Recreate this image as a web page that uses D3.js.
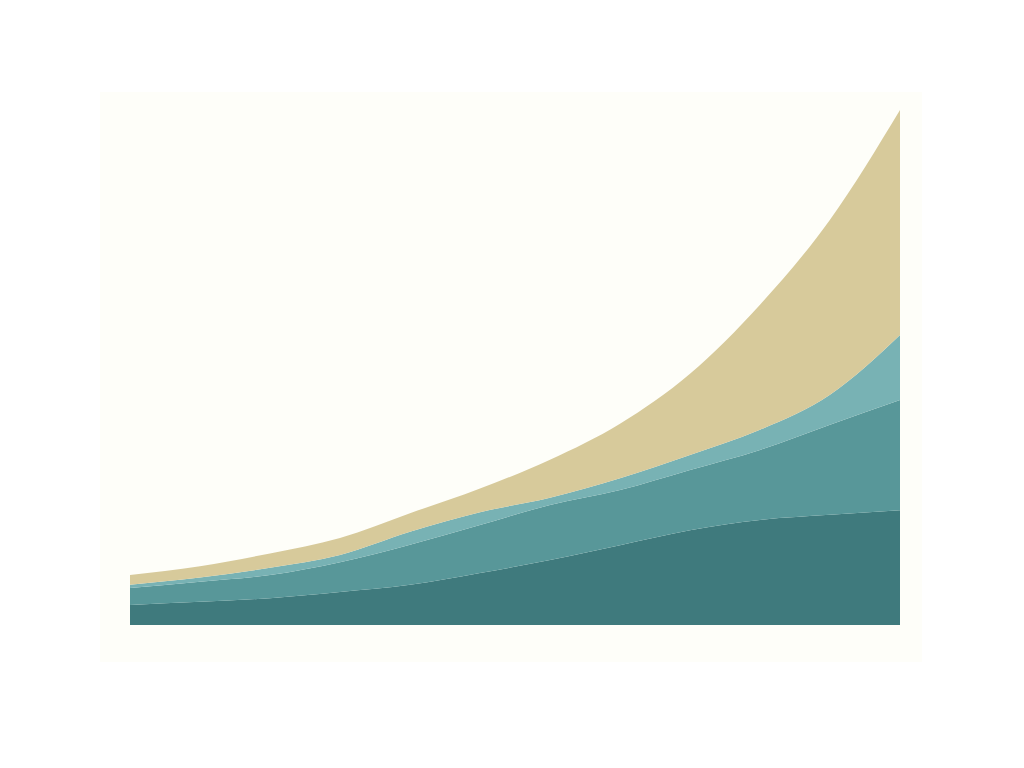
<!DOCTYPE html>
<html>
<head>
<meta charset="utf-8">
<script src="https://cdn.jsdelivr.net/npm/d3@7"></script>
<style>
  body { margin: 0; background: #ffffff; }
  svg { display: block; }
</style>
</head>
<body>
<svg width="1024" height="768"></svg>
<script>
// periods along the x axis
var periods = ["P1", "P2", "P3", "P4", "P5", "P6", "P7", "P8", "P9", "P10", "P11", "P12"];

// stacked series, bottom to top
var seriesKeys = ["dark", "mid", "light", "sand"];
var darkValues  = [3.9, 4.5, 5.2, 6.4, 7.8, 10.1, 12.6, 15.5, 18.4, 20.4, 21.4, 22.3];
var midValues   = [3.3, 3.9, 4.5, 5.8, 7.8, 9.3, 10.7, 10.7, 11.7, 13.6, 17.5, 21.4];
var lightValues = [0.6, 0.8, 1.4, 1.4, 2.5, 2.5, 1.4, 2.3, 2.9, 3.9, 5.8, 12.6];
var sandValues  = [1.9, 2.2, 2.8, 3.3, 3.6, 4.6, 7.4, 10.6, 15.8, 24.3, 34.0, 43.7];

var colors = {
    dark: "#3f7a7d",
    mid: "#589799",
    light: "#78b2b4",
    sand: "#d7ca9b"
};

var svg = d3.select("svg"),
    width = +svg.attr("width"),
    height = +svg.attr("height");

var margin = { top: 110, right: 124, bottom: 143, left: 130 };

var table = periods.map(function (p, i) {
    return { period: p, dark: darkValues[i], mid: midValues[i], light: lightValues[i], sand: sandValues[i] };
});

var stack = d3.stack().keys(seriesKeys);
var layers = stack(table);

var x = d3.scalePoint()
    .domain(periods)
    .range([margin.left, width - margin.right]);

var y = d3.scaleLinear()
    .domain([0, 100])
    .range([height - margin.bottom, margin.top]);

// faint panel behind the plot
svg.append("rect")
    .attr("x", 100)
    .attr("y", 92)
    .attr("width", 822)
    .attr("height", 570)
    .attr("fill", "#fefef9");

var area = d3.area()
    .curve(d3.curveMonotoneX)
    .x(function (d) { return x(d.data.period); })
    .y0(function (d) { return y(d[0]); })
    .y1(function (d) { return y(d[1]); });

svg.append("g")
    .selectAll("path")
    .data(layers)
    .enter().append("path")
    .attr("fill", function (d) { return colors[d.key]; })
    .attr("d", area);
</script>
</body>
</html>
